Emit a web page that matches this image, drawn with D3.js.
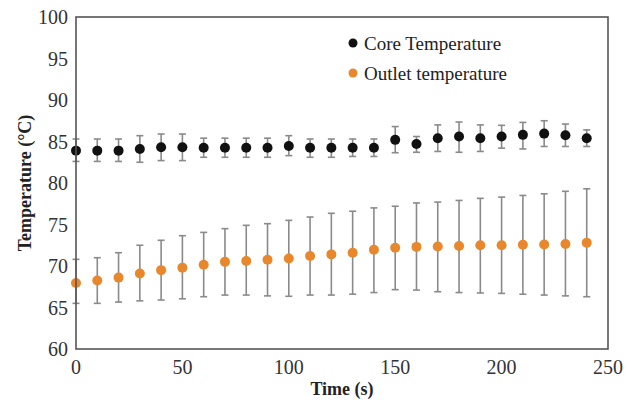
<!DOCTYPE html>
<html>
<head>
<script type="text/javascript" src="https://cdn.jsdelivr.net/npm/d3@7"></script>
<title>Temperature vs time</title>
<style>
body { margin: 0; background: #fff; }
text { font-family: "Liberation Serif", "Times New Roman", serif; }
</style>
</head>
<body>
<div id="viz"></div>
<script type="text/javascript">

// time points (s)
var times = [0, 10, 20, 30, 40, 50, 60, 70, 80, 90, 100, 110, 120, 130, 140, 150, 160, 170, 180, 190, 200, 210, 220, 230, 240];

// core temperature, mean and error bar ends
var coreMean = [83.9, 83.9, 83.9, 84.1, 84.3, 84.3, 84.25, 84.25, 84.25, 84.25, 84.45, 84.25, 84.25, 84.25, 84.25, 85.2, 84.7, 85.4, 85.6, 85.4, 85.6, 85.8, 85.95, 85.75, 85.4];
var coreLow  = [82.6, 82.6, 82.6, 82.5, 82.7, 82.7, 83.1, 83.1, 83.1, 83.1, 83.3, 83.1, 83.1, 83.2, 83.2, 83.65, 83.7, 83.8, 83.7, 83.8, 84.2, 84.1, 84.4, 84.4, 84.4];
var coreHigh = [85.3, 85.3, 85.3, 85.7, 85.9, 85.9, 85.4, 85.4, 85.4, 85.4, 85.7, 85.3, 85.3, 85.3, 85.3, 86.8, 85.6, 87.0, 87.35, 87.0, 86.95, 87.3, 87.5, 87.1, 86.4];

// outlet temperature
var outletMean = [67.95, 68.25, 68.6, 69.1, 69.5, 69.8, 70.15, 70.5, 70.6, 70.75, 70.9, 71.2, 71.4, 71.6, 71.95, 72.2, 72.3, 72.35, 72.4, 72.5, 72.5, 72.55, 72.6, 72.65, 72.8];
var outletLow  = [65.5, 65.5, 65.65, 65.8, 65.9, 66.05, 66.3, 66.5, 66.5, 66.4, 66.35, 66.5, 66.5, 66.6, 66.8, 67.15, 67.1, 66.9, 66.8, 66.75, 66.7, 66.6, 66.5, 66.4, 66.3];
var outletHigh = [70.8, 71.0, 71.6, 72.5, 73.1, 73.65, 74.05, 74.5, 74.9, 75.1, 75.5, 75.9, 76.35, 76.6, 77.0, 77.2, 77.6, 77.7, 77.9, 78.15, 78.3, 78.5, 78.7, 79.0, 79.3];

var xTicks = [0, 50, 100, 150, 200, 250];
var yTicks = [60, 65, 70, 75, 80, 85, 90, 95, 100];
var seriesNames = ["Core Temperature", "Outlet temperature"];
var seriesColors = ["#111111", "#e8872b"];

var W = 630, H = 402;
var margin = {left: 76, right: 22, top: 17, bottom: 53};

var svg = d3.select("#viz").append("svg")
    .attr("width", W)
    .attr("height", H);

var x = d3.scaleLinear().domain([0, 250]).range([margin.left, W - margin.right]);
var y = d3.scaleLinear().domain([60, 100]).range([H - margin.bottom, margin.top]);

// tick labels (no tick marks in the original)
svg.selectAll("text.ytick")
    .data(yTicks)
    .enter().append("text")
    .attr("class", "ytick")
    .attr("x", margin.left - 8)
    .attr("y", function(d){return y(d);})
    .attr("text-anchor", "end")
    .attr("dy", "0.35em")
    .attr("font-size", 20)
    .attr("fill", "#333")
    .text(function(d){return d;});

svg.selectAll("text.xtick")
    .data(xTicks)
    .enter().append("text")
    .attr("class", "xtick")
    .attr("x", function(d){return x(d);})
    .attr("y", H - margin.bottom + 25)
    .attr("text-anchor", "middle")
    .attr("font-size", 20)
    .attr("fill", "#333")
    .text(function(d){return d;});

// axis titles
svg.append("text")
    .attr("transform", "translate(25," + ((margin.top + H - margin.bottom) / 2) + ") rotate(-90)")
    .attr("text-anchor", "middle")
    .attr("dy", "0.35em")
    .attr("font-size", 18)
    .attr("font-weight", "bold")
    .attr("fill", "#222")
    .text("Temperature (\u00B0C)");

svg.append("text")
    .attr("x", (x(0) + x(250)) / 2)
    .attr("y", H - 7)
    .attr("text-anchor", "middle")
    .attr("font-size", 18)
    .attr("font-weight", "bold")
    .attr("fill", "#222")
    .text("Time (s)");

function drawSeries(mean, low, high, color){
    var g = svg.append("g");
    var rows = times.map(function(t, i){return {t: t, m: mean[i], lo: low[i], hi: high[i]};});
    g.selectAll("line.bar")
        .data(rows)
        .enter().append("line")
        .attr("x1", function(d){return x(d.t);})
        .attr("x2", function(d){return x(d.t);})
        .attr("y1", function(d){return y(d.lo);})
        .attr("y2", function(d){return y(d.hi);})
        .attr("stroke", "#8a8a8a")
        .attr("stroke-width", 1.6);
    ["lo", "hi"].forEach(function(k){
        g.selectAll("line.cap" + k)
            .data(rows)
            .enter().append("line")
            .attr("x1", function(d){return x(d.t) - 3.5;})
            .attr("x2", function(d){return x(d.t) + 3.5;})
            .attr("y1", function(d){return y(d[k]);})
            .attr("y2", function(d){return y(d[k]);})
            .attr("stroke", "#8a8a8a")
            .attr("stroke-width", 1.6);
    });
    g.selectAll("circle")
        .data(rows)
        .enter().append("circle")
        .attr("cx", function(d){return x(d.t);})
        .attr("cy", function(d){return y(d.m);})
        .attr("r", 5)
        .attr("fill", color);
}

drawSeries(outletMean, outletLow, outletHigh, seriesColors[1]);
drawSeries(coreMean, coreLow, coreHigh, seriesColors[0]);

// frame
svg.append("rect")
    .attr("x", x(0))
    .attr("y", y(100))
    .attr("width", x(250) - x(0))
    .attr("height", y(60) - y(100))
    .attr("fill", "none")
    .attr("stroke", "#555")
    .attr("stroke-width", 1.6);

// legend
var legend = svg.selectAll("g.legend")
    .data(seriesNames)
    .enter().append("g")
    .attr("class", "legend")
    .attr("transform", function(d, i){return "translate(353," + (43 + i * 30) + ")";});
legend.append("circle")
    .attr("r", 4.5)
    .attr("fill", function(d, i){return seriesColors[i];});
legend.append("text")
    .attr("x", 11)
    .attr("dy", "0.35em")
    .attr("font-size", 19)
    .attr("fill", "#222")
    .text(function(d){return d;});

</script>
</body>
</html>
